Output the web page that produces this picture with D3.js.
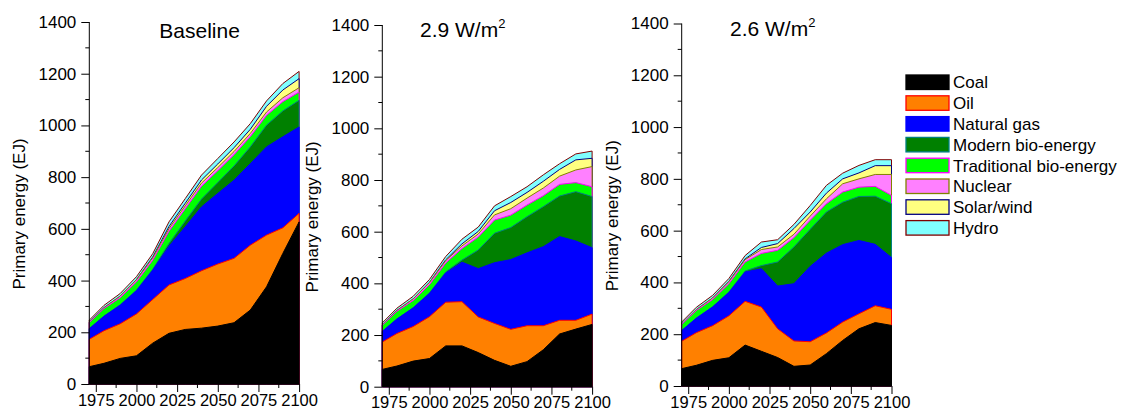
<!DOCTYPE html>
<html><head><meta charset="utf-8">
<script src="https://cdn.jsdelivr.net/npm/d3@7"></script>
<style>
html,body{margin:0;padding:0;background:#fff;}
svg{display:block;font-family:"Liberation Sans",Arial,sans-serif;}
</style></head>
<body><svg id="chart" width="1121" height="414"></svg>
<script>
// ---------- data ----------
const years = [1971,1980,1990,2000,2010,2020,2030,2040,2050,2060,2070,2080,2090,2100];
const seriesNames = ["Coal","Oil","Natural gas","Modern bio-energy","Traditional bio-energy","Nuclear","Solar/wind","Hydro"];
const fillColors   = ["#000000","#FF8000","#0000FF","#008000","#00FF00","#FF80FF","#FFFF80","#80FFFF"];
const strokeColors = ["#000000","#FF0000","#0000FF","#008080","#FF00FF","#808000","#000080","#800000"];
const panelTitles = ["Baseline","2.9 W/m","2.6 W/m"];
const titleSup = ["","2","2"];
const yTicks = [0,200,400,600,800,1000,1200,1400];
const yMinor = [100,300,500,700,900,1100,1300];
const xTicks = [1975,2000,2025,2050,2075,2100];
const xMinor = [1987.5,2012.5,2037.5,2062.5,2087.5];

// Baseline
const baseCoal  = [67,80,99,109,158,196,211,216,224,237,286,376,505,627];
const baseOil   = [106,126,134,162,169,187,197,222,240,249,251,200,99,33];
const baseGas   = [41,56,72,90,113,150,200,247,273,302,315,341,352,334];
const baseMod   = [0,0,1,2,4,10,22,30,42,55,65,84,100,103];
const baseTrad  = [24,30,28,32,35,48,48,50,46,44,40,38,36,32];
const baseNuc   = [1,3,6,8,9,10,11,12,12,12,12,13,15,17];
const baseSolar = [0,0,0,1,3,8,10,12,14,15,16,22,30,35];
const baseHydro = [8,9,10,11,13,18,18,19,21,22,22,21,25,28];
// 2.9 W/m2
const s29Coal  = [67,80,99,109,158,158,132,102,79,97,143,204,223,241];
const s29Oil   = [106,126,134,162,169,171,138,143,143,139,93,53,34,40];
const s29Gas   = [41,56,72,90,113,153,187,235,270,282,306,324,307,257];
const s29Mod   = [0,0,1,2,4,8,72,114,124,140,155,157,191,198];
const s29Trad  = [24,30,28,32,35,45,50,51,48,45,42,45,35,38];
const s29Nuc   = [1,3,6,8,9,10,12,20,25,27,30,32,49,78];
const s29Solar = [0,0,0,1,3,8,10,16,24,22,26,26,39,32];
const s29Hydro = [8,9,10,11,13,18,17,19,23,22,25,22,23,28];
// 2.6 W/m2
const s26Coal  = [67,80,99,109,158,134,110,76,81,125,176,221,245,234];
const s26Oil   = [106,126,134,162,169,171,111,98,90,80,71,58,65,62];
const s26Gas   = [41,56,72,90,113,148,165,221,291,308,299,283,237,200];
const s26Mod   = [0,0,1,2,4,12,93,142,143,159,164,170,186,208];
const s26Trad  = [24,30,28,32,35,47,45,36,35,32,39,36,38,32];
const s26Nuc   = [1,3,6,8,9,15,13,13,16,19,32,32,46,81];
const s26Solar = [0,0,0,1,3,8,13,22,16,22,19,23,34,34];
const s26Hydro = [8,9,10,11,13,21,15,16,25,30,22,29,23,23];

const panelSeries = [
  [baseCoal,baseOil,baseGas,baseMod,baseTrad,baseNuc,baseSolar,baseHydro],
  [s29Coal,s29Oil,s29Gas,s29Mod,s29Trad,s29Nuc,s29Solar,s29Hydro],
  [s26Coal,s26Oil,s26Gas,s26Mod,s26Trad,s26Nuc,s26Solar,s26Hydro]
];

// ---------- layout ----------
const axisLeft = [89.3, 382.3, 681.7];
const axisTop = [22, 25, 23.5];
const axisBottom = [384, 386.7, 386];
const plotW = 209.8;
const titleX = [159.3, 420, 730];
const titleY = [37.7, 36.7, 35.5];
const FONT = 17;

const svg = d3.select("#chart");

panelSeries.forEach((series, p) => {
  const g = svg.append("g");
  const x = d3.scaleLinear().domain([1971, 2100]).range([axisLeft[p], axisLeft[p] + plotW]);
  const y = d3.scaleLinear().domain([0, 1400]).range([axisBottom[p], axisTop[p]]);

  const rows = years.map((yr, i) => {
    const r = {year: yr};
    seriesNames.forEach((n, k) => r[n] = series[k][i]);
    return r;
  });
  const stacked = d3.stack().keys(seriesNames)(rows);
  const area = d3.area().x(d => x(d.data.year)).y0(y(0)).y1(d => y(d[1]));

  // draw top layers first, each filled from zero to its cumulative top
  for (let k = stacked.length - 1; k >= 0; k--) {
    g.append("path")
      .datum(stacked[k])
      .attr("d", area)
      .attr("fill", fillColors[k])
      .attr("stroke", strokeColors[k])
      .attr("stroke-width", 1)
      .attr("stroke-linejoin", "round");
  }

  // axes
  const yAxis = d3.axisLeft(y).tickValues(yTicks).tickSize(8).tickPadding(5).tickFormat(d3.format("d"));
  const yg = g.append("g").attr("transform", `translate(${axisLeft[p]},0)`).call(yAxis);
  yg.append("g").selectAll("line").data(yMinor).join("line")
    .attr("x1", 0).attr("x2", -4).attr("y1", d => y(d)).attr("y2", d => y(d)).attr("stroke", "#000");
  const xAxis = d3.axisBottom(x).tickValues(xTicks).tickSize(8).tickPadding(2).tickFormat(d3.format("d"));
  const xg = g.append("g").attr("transform", `translate(0,${axisBottom[p]})`).call(xAxis);
  xg.append("g").selectAll("line").data(xMinor).join("line")
    .attr("x1", d => x(d)).attr("x2", d => x(d)).attr("y1", 0).attr("y2", 4).attr("stroke", "#000");
  [yg, xg].forEach(a => {
    a.select(".domain").attr("stroke", "#000").attr("stroke-width", 1);
    a.selectAll(".tick line").attr("stroke", "#000");
    a.selectAll("text").attr("font-size", FONT).attr("fill", "#000").attr("font-family", '"Liberation Sans",Arial,sans-serif');
  });
  xg.selectAll("text").attr("font-size", 16.5);
  yg.select(".domain").attr("d", `M0,${y(0)}V${y(1400)}`);
  xg.select(".domain").attr("d", `M${x(1971)},0H${x(2100)}`);

  // y label
  const cy = (axisTop[p] + axisBottom[p]) / 2 + 11;
  g.append("text")
    .attr("transform", `translate(${axisLeft[p] - 64},${cy}) rotate(-90)`)
    .attr("text-anchor", "middle")
    .attr("font-size", FONT)
    .text("Primary energy (EJ)");

  // title
  const t = g.append("text").attr("x", titleX[p]).attr("y", titleY[p]).attr("font-size", 21).text(panelTitles[p]);
  if (titleSup[p]) t.append("tspan").attr("font-size", 13).attr("dy", -9).text(titleSup[p]);
});

// legend
const legX = 906, legY = 75, legPitch = 20.8;
const leg = svg.append("g");
seriesNames.forEach((n, k) => {
  leg.append("rect")
    .attr("x", legX).attr("y", legY + k * legPitch)
    .attr("width", 43).attr("height", 14.5)
    .attr("fill", fillColors[k]).attr("stroke", strokeColors[k]).attr("stroke-width", 1.3);
  leg.append("text")
    .attr("x", 953).attr("y", legY + k * legPitch + 13.3)
    .attr("font-size", FONT).text(n);
});
</script></body></html>
